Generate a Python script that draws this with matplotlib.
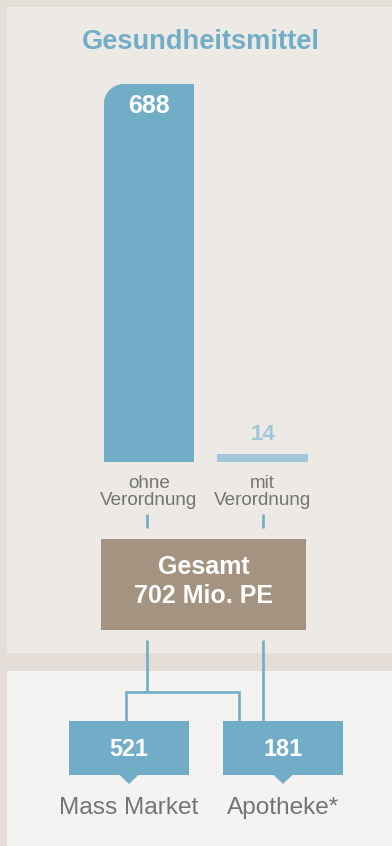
import numpy as np
import matplotlib.pyplot as plt
from matplotlib.patches import Rectangle, Polygon, PathPatch
from matplotlib.path import Path

plt.rcParams['font.family'] = ['Liberation Sans', 'DejaVu Sans']

# --- data
title = "Gesundheitsmittel"
categories = ["ohne\nVerordnung", "mit\nVerordnung"]
values = [688, 14]
total_label = "Gesamt\n702 Mio. PE"
channels = ["Mass Market", "Apotheke*"]
channel_values = [521, 181]

# --- colours
BLUE = "#72adc8"
LIGHT_BLUE = "#a2c7d9"
BROWN = "#a59381"
GREY = "#747474"
OUTER = "#e5ddd8"
PANEL_TOP = "#edeae5"
PANEL_BOTTOM = "#f4f3f1"

W, H = 392, 846
DPI = 100
fig = plt.figure(figsize=(W / DPI, H / DPI), dpi=DPI, facecolor=OUTER)

# background axes in pixel units (origin top-left)
bg = fig.add_axes([0, 0, 1, 1])
bg.set_xlim(0, W)
bg.set_ylim(H, 0)
bg.axis("off")

bg.add_patch(Rectangle((7, 7), W - 7, 646, color=PANEL_TOP, lw=0))
bg.add_patch(Rectangle((7, 671), W - 7, H - 671, color=PANEL_BOTTOM, lw=0))

bg.text(200.5, 42, title, color=BLUE, fontsize=19.6, fontweight="bold",
        ha="center", va="center")

# --- bar axes: baseline at y=462px, 688 reaches y=84px
px = lambda v: v / W
py = lambda v: 1 - v / H
bar_left, bar_right = 92.25, 92.25 + 227
ax = fig.add_axes([px(bar_left), py(462), (bar_right - bar_left) / W, 378 / H])
ax.set_xlim(-0.5, 1.5)
ax.set_ylim(0, max(values))
ax.axis("off")

xpos = np.arange(len(values))
bars = ax.bar(xpos, values, width=0.795, color=[BLUE, LIGHT_BLUE], lw=0)

# round the top-left corner of the tall bar
b = bars[0]
x0, y0 = b.get_x(), b.get_y()
x1, y1 = x0 + b.get_width(), y0 + b.get_height()
r_px = 20
rx = r_px * (2.0 / 227)
ry = r_px * (max(values) / 378)
t = np.linspace(np.pi, np.pi / 2, 20)
arc = np.column_stack([x0 + rx + rx * np.cos(t), y1 - ry + ry * np.sin(t)])
verts = np.vstack([[x0, y0], arc, [x1, y1], [x1, y0], [x0, y0]])
clip = PathPatch(Path(verts), transform=ax.transData, fc="none", ec="none")
ax.add_patch(clip)
b.set_clip_path(clip)

# value labels
ax.annotate(str(values[0]), xy=(xpos[0], values[0]), xytext=(0, -16),
            textcoords="offset points", ha="center", va="center",
            color="white", fontsize=18, fontweight="bold", annotation_clip=False)
ax.annotate(str(values[1]), xy=(xpos[1], values[1]), xytext=(0, 14),
            textcoords="offset points", ha="center", va="center",
            color=LIGHT_BLUE, fontsize=16, fontweight="bold", annotation_clip=False)

# category labels under the bars
for x, lab in zip(xpos, categories):
    ax.annotate(lab, xy=(x, 0), xytext=(0, -21.5), textcoords="offset points",
                ha="center", va="center", color=GREY, fontsize=13.6,
                linespacing=1.0, annotation_clip=False)

# --- connectors and total box
LW = 1.9
for cx in (147, 263):
    bg.plot([cx, cx], [514, 528], color=BLUE, lw=LW, solid_capstyle="butt")

bg.add_patch(Rectangle((101, 539), 205, 91, color=BROWN, lw=0))
bg.text(203.5, 581.5, total_label, color="white", fontsize=18, fontweight="bold",
        ha="center", va="center", linespacing=1.3)

bg.plot([147, 147], [640, 692], color=BLUE, lw=LW, solid_capstyle="butt")
bg.plot([126, 126, 239, 239], [722, 692, 692, 722], color=BLUE, lw=LW,
        solid_joinstyle="miter", solid_capstyle="butt")
bg.plot([263, 263], [640, 722], color=BLUE, lw=LW, solid_capstyle="butt")

# --- channel boxes with pointers
box_x = [69, 223]
for bx, val, name in zip(box_x, channel_values, channels):
    cx = bx + 60
    bg.add_patch(Rectangle((bx, 721.5), 120, 53.5, color=BLUE, lw=0))
    bg.add_patch(Polygon([[cx - 10, 774.5], [cx + 10, 774.5], [cx, 784]],
                         closed=True, color=BLUE, lw=0))
    bg.text(cx, 749, str(val), color="white", fontsize=16.8, fontweight="bold",
            ha="center", va="center")
    bg.text(cx, 808, name, color=GREY, fontsize=17.6, ha="center", va="center")

fig.savefig("out.png", dpi=DPI, facecolor=OUTER)
